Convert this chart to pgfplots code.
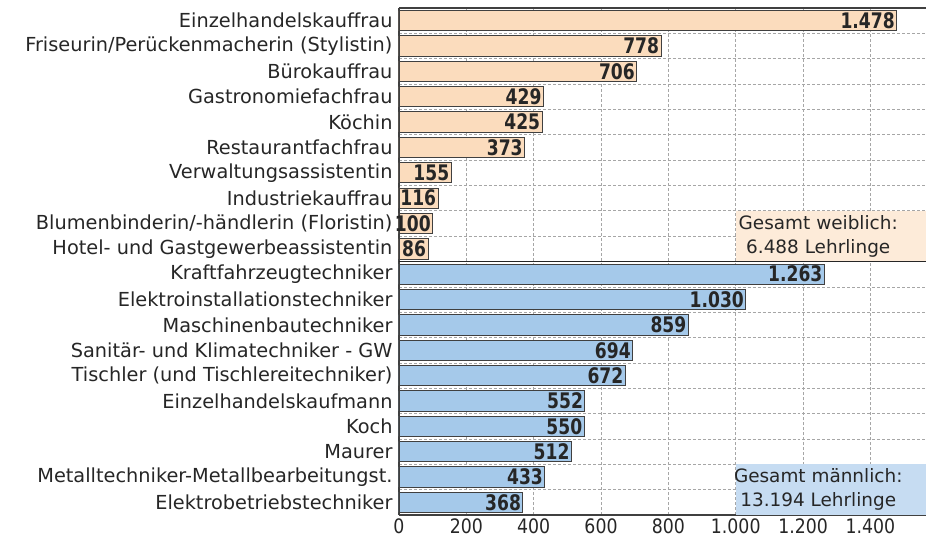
\documentclass[border=0pt]{standalone}
\usepackage{pgfplots}
\pgfplotsset{compat=1.18}
\usepackage{fontspec}
\setmainfont{DejaVu Sans}
\definecolor{fbar}{HTML}{FBDCBD}
\definecolor{mbar}{HTML}{A5C9EA}
\definecolor{fbox}{HTML}{FDEBD9}
\definecolor{mbox}{HTML}{C6DCF2}
\definecolor{txt}{HTML}{262626}
\begin{document}
\begin{tikzpicture}
\begin{axis}[
  scale only axis, width=527bp, height=507bp,
  xbar, bar width=0.8, bar shift=0pt,
  xmin=0, xmax=1565, ymin=-0.5, ymax=19.5,
  ytick={0,...,19},
  yticklabels={Elektrobetriebstechniker, Metalltechniker-Metallbearbeitungst., Maurer, Koch, Einzelhandelskaufmann, Tischler (und Tischlereitechniker), Sanitär- und Klimatechniker - GW, Maschinenbautechniker, Elektroinstallationstechniker, Kraftfahrzeugtechniker, Hotel- und Gastgewerbeassistentin, Blumenbinderin/-händlerin (Floristin), Industriekauffrau, Verwaltungsassistentin, Restaurantfachfrau, Köchin, Gastronomiefachfrau, Bürokauffrau, Friseurin/Perückenmacherin (Stylistin), Einzelhandelskauffrau},
  minor ytick={-0.5,0.5,...,19.5},
  xtick={0,200,...,1400},
  xmajorgrids, yminorgrids,
  major grid style={densely dashed, black!35, line width=0.6bp},
  minor grid style={densely dashed, black!35, line width=0.6bp},
  major tick length=0pt, minor tick length=0pt,
  axis x line*=bottom, axis y line*=left,
  axis line style={black!75, line width=1.3bp},
  yticklabel style={font=\fontsize{19.4}{21}\selectfont, text=txt, xshift=-3bp},
  xticklabel style={font=\fontsize{20}{22}\selectfont, text=txt, inner sep=0pt, yshift=-3.5bp},
  xticklabel={\scalebox{0.87}[1]{\pgfmathprintnumber{\tick}}},
  /pgf/number format/.cd, 1000 sep={.}, assume math mode=true, /pgfplots/.cd,
  nodes near coords={\scalebox{0.8}[1]{\pgfmathprintnumber{\pgfplotspointmeta}}},
  every node near coord/.append style={anchor=east, font=\bfseries\fontsize{21.5}{22}\selectfont, text=txt, inner sep=1.5bp},
  clip=false,
]
\fill[fbox] (axis cs:1000,9.5) rectangle (axis cs:1565,11.5);
\fill[mbox] (axis cs:1000,-0.5) rectangle (axis cs:1565,1.5);
\node[align=center, font=\fontsize{18.5}{24}\selectfont, text=txt] at (axis cs:1245,10.5) {Gesamt weiblich:\\6.488 Lehrlinge};
\node[align=center, font=\fontsize{18.5}{24}\selectfont, text=txt] at (axis cs:1245,0.5) {Gesamt männlich:\\13.194 Lehrlinge};
\addplot[fill=fbar, draw=black!75, line width=0.9bp] coordinates {
 (86,10) (100,11) (116,12) (155,13) (373,14) (425,15) (429,16) (706,17) (778,18) (1478,19)};
\addplot[fill=mbar, draw=black!75, line width=0.9bp] coordinates {
 (368,0) (433,1) (512,2) (550,3) (552,4) (672,5) (694,6) (859,7) (1030,8) (1263,9)};
\draw[black!85, line width=1.8bp] (axis cs:0,9.5) -- (axis cs:1565,9.5);
\draw[black!75, line width=1.3bp] (axis cs:0,19.5) -- (axis cs:1565,19.5);
\end{axis}
\pgfresetboundingbox
\path[use as bounding box] ([shift={(-399bp,-24bp)}]current axis.south west) rectangle ++(928bp,539bp);
\end{tikzpicture}
\end{document}
